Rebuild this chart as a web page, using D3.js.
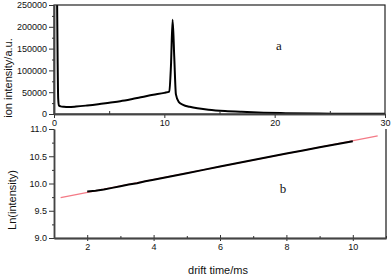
<!DOCTYPE html>
<html>
<head>
<meta charset="utf-8">
<script src="https://cdn.jsdelivr.net/npm/d3@7"></script>
<style>
  body { margin: 0; background: #fff; }
  text { font-family: "Liberation Sans", Arial, sans-serif; fill: #111; }
</style>
</head>
<body>
<svg id="chart" width="392" height="276"></svg>
<script>
// panel a: drift spectrum (time ms, intensity a.u.)
var specTime = [0.28, 0.33, 0.38, 0.45, 0.6, 0.9, 1.3, 2, 3, 4, 5, 6, 7, 8, 9, 10, 10.45, 10.6, 10.75, 10.9, 11.05, 11.3, 11.7, 12.3, 13, 14, 15.5, 17, 19, 21, 24, 27, 30];
var specValue = [262000, 120000, 35000, 19500, 17500, 16500, 16000, 17000, 19500, 22500, 26000, 29500, 34000, 39000, 44000, 48500, 51500, 110000, 216000, 130000, 45000, 28000, 21000, 16500, 13000, 10000, 7000, 5000, 3000, 1800, 900, 500, 300];
var specXTicks = [0, 10, 20, 30];
var specYTicks = [0, 50000, 100000, 150000, 200000, 250000];

// panel b: Ln(intensity) vs drift time, plus fitted line
var lnTime = [2.0, 2.25, 2.5, 2.75, 3.0, 3.25, 3.5, 3.75, 4.0, 4.5, 5.0, 5.5, 6.0, 6.5, 7.0, 7.5, 8.0, 8.5, 9.0, 9.5, 10.0];
var lnValue = [9.855, 9.865, 9.89, 9.92, 9.95, 9.98, 10.005, 10.04, 10.07, 10.13, 10.19, 10.25, 10.31, 10.37, 10.43, 10.49, 10.55, 10.605, 10.665, 10.72, 10.775];
var fitTime = [1.2, 10.75];
var fitValue = [9.74, 10.875];
var lnXTicks = [2, 4, 6, 8, 10];
var lnYTicks = [9.0, 9.5, 10.0, 10.5, 11.0];

var svg = d3.select('#chart');
var left = 54, right = 385;

// ---------- panel a ----------
var xa = d3.scaleLinear().domain([0, 30]).range([left, right]);
var ya = d3.scaleLinear().domain([0, 250000]).range([114, 5]);

svg.append('clipPath').attr('id', 'clipA')
  .append('rect').attr('x', left).attr('y', ya(250000)).attr('width', right - left).attr('height', ya(0) - ya(250000));

var specData = specTime.map((t, i) => [t, specValue[i]]);
svg.append('path')
  .datum(specData)
  .attr('clip-path', 'url(#clipA)')
  .attr('fill', 'none')
  .attr('stroke', '#000')
  .attr('stroke-width', 2)
  .attr('stroke-linejoin', 'round')
  .attr('d', d3.line().x(d => xa(d[0])).y(d => ya(d[1])).curve(d3.curveMonotoneX));

// frame
svg.append('rect')
  .attr('x', left).attr('y', ya(250000))
  .attr('width', right - left).attr('height', ya(0) - ya(250000))
  .attr('fill', 'none').attr('stroke', '#222').attr('stroke-width', 1.2);

svg.append('g').attr('transform', `translate(0,${ya(0)})`)
  .call(d3.axisBottom(xa).tickValues(specXTicks).tickSize(4).tickSizeOuter(0).tickPadding(2));
svg.append('g').attr('transform', `translate(0,${ya(0)})`)
  .call(d3.axisTop(xa).tickValues([5, 15, 25]).tickSize(3).tickFormat('').tickSizeOuter(0));
svg.append('g').attr('transform', `translate(${left},0)`)
  .call(d3.axisLeft(ya).tickValues(specYTicks).tickSize(5).tickSizeOuter(0).tickPadding(2).tickFormat(d3.format('d')));
svg.append('g').attr('transform', `translate(${left},0)`)
  .call(d3.axisLeft(ya).tickValues([25000, 75000, 125000, 175000, 225000]).tickSize(2).tickFormat('').tickSizeOuter(0));

svg.append('text').attr('x', 279).attr('y', 50).attr('text-anchor', 'middle')
  .style('font-family', '"Liberation Serif", serif').style('font-size', '13px').text('a');

svg.append('text')
  .attr('transform', 'translate(12,78) rotate(-90)')
  .attr('text-anchor', 'middle').style('font-size', '11px')
  .text('ion intensity/a.u.');

// ---------- panel b ----------
var xb = d3.scaleLinear().domain([1, 11]).range([left, right + 1]);
var yb = d3.scaleLinear().domain([9, 11]).range([238, 129]);

var fitData = fitTime.map((t, i) => [t, fitValue[i]]);
svg.append('path')
  .datum(fitData)
  .attr('fill', 'none').attr('stroke', '#f47a86').attr('stroke-width', 1.2)
  .attr('d', d3.line().x(d => xb(d[0])).y(d => yb(d[1])));

var lnData = lnTime.map((t, i) => [t, lnValue[i]]);
svg.append('path')
  .datum(lnData)
  .attr('fill', 'none').attr('stroke', '#000').attr('stroke-width', 2)
  .attr('d', d3.line().x(d => xb(d[0])).y(d => yb(d[1])));

svg.append('line')
  .attr('x1', xb(11)).attr('x2', xb(11)).attr('y1', yb(11)).attr('y2', yb(9))
  .attr('stroke', '#444').attr('stroke-width', 1.5);

svg.append('g').attr('transform', `translate(0,${yb(9)})`)
  .call(d3.axisBottom(xb).tickValues(lnXTicks).tickSize(3).tickSizeOuter(0).tickPadding(3));
svg.append('g').attr('transform', `translate(0,${yb(9)})`)
  .call(d3.axisTop(xb).tickValues(lnXTicks).tickSize(3).tickFormat('').tickSizeOuter(0));
svg.append('g').attr('transform', `translate(0,${yb(9)})`)
  .call(d3.axisTop(xb).tickValues([3, 5, 7, 9, 11]).tickSize(2).tickFormat('').tickSizeOuter(0));
svg.append('g').attr('transform', `translate(${left},0)`)
  .call(d3.axisLeft(yb).tickValues(lnYTicks).tickSize(5).tickSizeOuter(0).tickPadding(2).tickFormat(d3.format('.1f')));
svg.append('g').attr('transform', `translate(${left},0)`)
  .call(d3.axisLeft(yb).tickValues([9.25, 9.75, 10.25, 10.75]).tickSize(2).tickFormat('').tickSizeOuter(0));

svg.append('text').attr('x', 283).attr('y', 193).attr('text-anchor', 'middle')
  .style('font-family', '"Liberation Serif", serif').style('font-size', '13px').text('b');

svg.append('text')
  .attr('transform', 'translate(16,200) rotate(-90)')
  .attr('text-anchor', 'middle').style('font-size', '11px')
  .text('Ln(intensity)');

svg.append('text').attr('x', 218).attr('y', 274).attr('text-anchor', 'middle')
  .style('font-size', '11px').text('drift time/ms');

// axis styling
svg.selectAll('.domain').attr('stroke', '#444').attr('stroke-width', 1.5);
svg.selectAll('.tick line').attr('stroke', '#333');
svg.selectAll('.tick text').style('font-size', '9px').attr('fill', '#111')
  .style('font-family', '"Liberation Sans", Arial, sans-serif');
</script>
</body>
</html>
